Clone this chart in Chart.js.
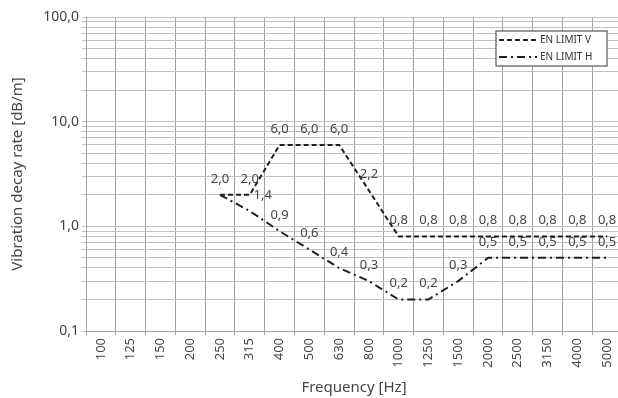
<!DOCTYPE html>
<html>
<head>
<meta charset="utf-8">
<script src="https://cdn.jsdelivr.net/npm/chart.js@4"></script>
<style>
  html, body { margin: 0; padding: 0; background: #fff; overflow: hidden; }
  #wrap { width: 628px; height: 398px; }
</style>
</head>
<body>
<div id="wrap"><canvas id="decayChart" width="628" height="398"></canvas></div>
<script>
const frequencies = ["100", "125", "150", "200", "250", "315", "400", "500", "630",
  "800", "1000", "1250", "1500", "2000", "2500", "3150", "4000", "5000"];
const limitV = [null, null, null, null, 2.0, 2.0, 6.0, 6.0, 6.0, 2.2, 0.8, 0.8, 0.8, 0.8, 0.8, 0.8, 0.8, 0.8];
const limitH = [null, null, null, null, 2.0, 1.4, 0.9, 0.6, 0.4, 0.3, 0.2, 0.2, 0.3, 0.5, 0.5, 0.5, 0.5, 0.5];
const yGrid = [0.1, 0.2, 0.3, 0.4, 0.5, 0.6, 0.7, 0.8, 0.9,
  1, 2, 3, 4, 5, 6, 7, 8, 9,
  10, 20, 30, 40, 50, 60, 70, 80, 90, 100];
const yLabelled = [0.1, 1, 10, 100];

const FONT = "'Noto Sans', sans-serif";
const TEXT = "#444";

function fmt(v) {
  return v.toFixed(1).replace(".", ",");
}

// value labels above each point
const valueLabels = {
  id: "valueLabels",
  afterDatasetsDraw(chart) {
    const ctx = chart.ctx;
    ctx.save();
    ctx.font = "13px " + FONT;
    ctx.fillStyle = TEXT;
    ctx.textAlign = "center";
    ctx.textBaseline = "middle";
    chart.data.datasets.forEach((ds, di) => {
      const pts = chart.getDatasetMeta(di).data;
      const other = di > 0 ? chart.getDatasetMeta(0).data : null;
      ds.data.forEach((v, i) => {
        if (v == null) return;
        const p = pts[i];
        let dx = 0;
        if (other && chart.data.datasets[0].data[i] != null) {
          const gap = p.y - other[i].y;
          if (Math.abs(gap) < 1) return; // same point already labelled
          if (gap > 0 && gap < 18) dx = 13; // would sit on the other line
        }
        ctx.fillText(fmt(v), p.x + dx, p.y - 16);
      });
    });
    ctx.restore();
  }
};

// boxed legend inside the plot, top right
const boxLegend = {
  id: "boxLegend",
  afterDraw(chart) {
    const ctx = chart.ctx;
    const ca = chart.chartArea;
    const w = 111, h = 35;
    const x = ca.right - 126, y = ca.top + 14;
    ctx.save();
    ctx.fillStyle = "#fff";
    ctx.fillRect(x, y, w, h);
    ctx.strokeStyle = "#555";
    ctx.lineWidth = 1.2;
    ctx.strokeRect(x, y, w, h);
    ctx.font = "10px " + FONT;
    ctx.textBaseline = "middle";
    chart.data.datasets.forEach((ds, i) => {
      const ly = y + 9 + i * 17;
      ctx.setLineDash(ds.borderDash);
      ctx.strokeStyle = ds.borderColor;
      ctx.lineWidth = 2;
      ctx.beginPath();
      ctx.moveTo(x + 3, ly);
      ctx.lineTo(x + 41, ly);
      ctx.stroke();
      ctx.setLineDash([]);
      ctx.fillStyle = "#333";
      ctx.fillText(ds.label, x + 44, ly);
    });
    ctx.restore();
  }
};

new Chart(document.getElementById("decayChart"), {
  type: "line",
  data: {
    labels: frequencies,
    datasets: [
      {
        label: "EN LIMIT V",
        data: limitV,
        borderColor: "#1e1e1e",
        borderWidth: 2,
        borderDash: [5, 3],
        pointRadius: 0,
        fill: false,
        tension: 0
      },
      {
        label: "EN LIMIT H",
        data: limitH,
        borderColor: "#1e1e1e",
        borderWidth: 2,
        borderDash: [8, 4, 2, 4],
        pointRadius: 0,
        fill: false,
        tension: 0
      }
    ]
  },
  options: {
    responsive: false,
    animation: false,
    devicePixelRatio: 1,
    layout: { padding: { top: 17, right: 6, left: 0, bottom: 0 } },
    plugins: {
      legend: { display: false },
      tooltip: { enabled: false }
    },
    scales: {
      x: {
        offset: true,
        grid: { offset: true, color: "#a2a2a2", tickLength: 4 },
        border: { color: "#a2a2a2" },
        ticks: {
          autoSkip: false,
          minRotation: 90,
          maxRotation: 90,
          padding: 3,
          color: TEXT,
          font: { family: FONT, size: 13 }
        },
        title: {
          display: true,
          text: "Frequency [Hz]",
          color: TEXT,
          font: { family: FONT, size: 15 },
          padding: { top: 0, bottom: 1 }
        },
        afterFit(s) { s.height = 67; }
      },
      y: {
        type: "logarithmic",
        min: 0.1,
        max: 100,
        afterBuildTicks(s) {
          s.ticks = yGrid.map(v => ({ value: v }));
        },
        grid: { color: "#c2c2c2", tickLength: 4 },
        border: { color: "#a2a2a2" },
        ticks: {
          autoSkip: false,
          padding: 3,
          color: TEXT,
          font: { family: FONT, size: 14 },
          callback: v => (yLabelled.includes(v) ? fmt(v) : "")
        },
        title: {
          display: true,
          text: "Vibration decay rate [dB/m]",
          color: TEXT,
          font: { family: FONT, size: 15 },
          padding: { top: 9, bottom: 4 }
        },
        afterFit(s) { s.width = 86; }
      }
    }
  },
  plugins: [valueLabels, boxLegend]
});
</script>
</body>
</html>
